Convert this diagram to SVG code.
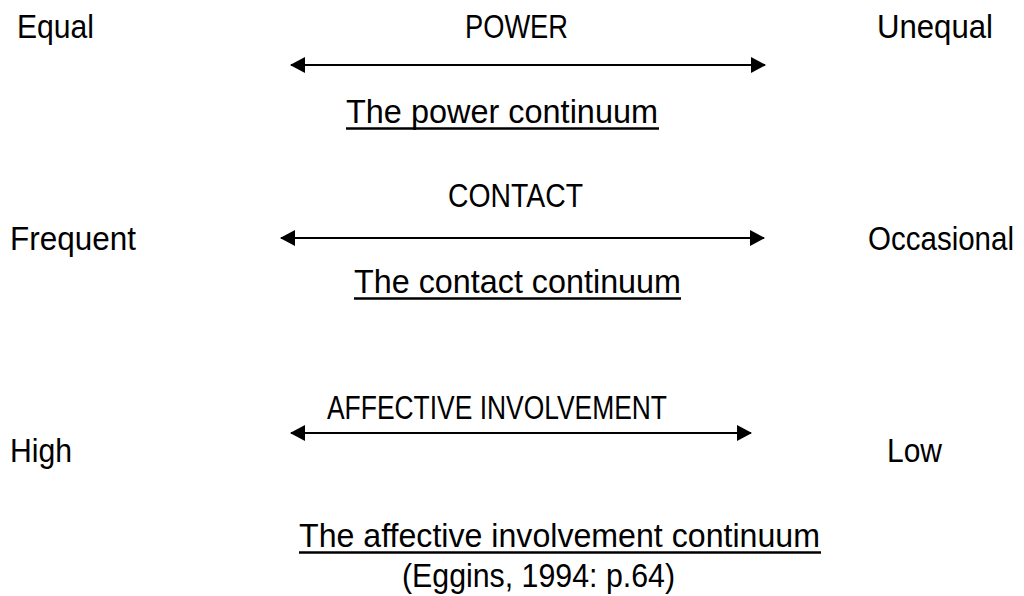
<svg xmlns="http://www.w3.org/2000/svg" width="1024" height="596" viewBox="0 0 1024 596">
  <style>
    text { font-family: "Liberation Sans", Arial, sans-serif; font-size: 34px; fill: #000; }
    .end { text-anchor: end; }
    .axis { stroke: #000; stroke-width: 2; fill: none; }
    .ul { stroke: #000; stroke-width: 2.5; }
  </style>
  <defs>
    <marker id="head" viewBox="0 0 15 16" refX="14" refY="8" markerWidth="15" markerHeight="16" markerUnits="userSpaceOnUse" orient="auto-start-reverse">
      <path d="M0,0 L15,8 L0,16 Z" fill="#000"/>
    </marker>
  </defs>

  <rect width="1024" height="596" fill="#fff"/>

  <!-- continuum arrows -->
  <g id="connectors">
    <line class="axis" x1="291" y1="65" x2="765" y2="65" marker-start="url(#head)" marker-end="url(#head)"/>
    <line class="axis" x1="281" y1="238" x2="764" y2="238" marker-start="url(#head)" marker-end="url(#head)"/>
    <line class="axis" x1="291" y1="433" x2="751" y2="433" marker-start="url(#head)" marker-end="url(#head)"/>
  </g>

  <!-- power -->
  <g id="power">
    <text x="17" y="38" textLength="77" lengthAdjust="spacingAndGlyphs">Equal</text>
    <text x="465" y="38" textLength="103" lengthAdjust="spacingAndGlyphs">POWER</text>
    <text class="end" x="993" y="38" textLength="116" lengthAdjust="spacingAndGlyphs">Unequal</text>
    <text x="346" y="123" textLength="312" lengthAdjust="spacingAndGlyphs">The power continuum</text>
    <line class="ul" x1="346" y1="128.5" x2="659" y2="128.5"/>
  </g>

  <!-- contact -->
  <g id="contact">
    <text x="448" y="207" textLength="135" lengthAdjust="spacingAndGlyphs">CONTACT</text>
    <text x="10" y="250" textLength="126" lengthAdjust="spacingAndGlyphs">Frequent</text>
    <!-- smaller size stretched vertically so the word stays inside the right edge -->
    <text transform="translate(868,250) scale(1,1.13)" x="0" y="0" style="font-size:30px" textLength="146" lengthAdjust="spacingAndGlyphs">Occasional</text>
    <text x="354" y="293" textLength="327" lengthAdjust="spacingAndGlyphs">The contact continuum</text>
    <line class="ul" x1="354" y1="298.5" x2="681" y2="298.5"/>
  </g>

  <!-- affective involvement -->
  <g id="affective">
    <text x="327" y="419" textLength="340" lengthAdjust="spacingAndGlyphs">AFFECTIVE INVOLVEMENT</text>
    <text x="10" y="462" textLength="62" lengthAdjust="spacingAndGlyphs">High</text>
    <text x="887" y="462" textLength="55" lengthAdjust="spacingAndGlyphs">Low</text>
    <text x="299" y="547" textLength="521" lengthAdjust="spacingAndGlyphs">The affective involvement continuum</text>
    <line class="ul" x1="299" y1="552.5" x2="821" y2="552.5"/>
  </g>

  <!-- source -->
  <g id="source">
    <text x="402" y="587" textLength="273" lengthAdjust="spacingAndGlyphs">(Eggins, 1994: p.64)</text>
  </g>
</svg>
